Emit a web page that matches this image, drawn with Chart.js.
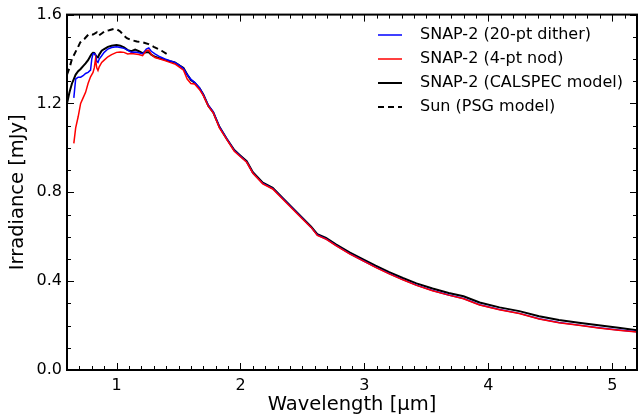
<!DOCTYPE html>
<html>
<head>
<meta charset="utf-8">
<script src="https://cdn.jsdelivr.net/npm/chart.js@4/dist/chart.umd.min.js"></script>
<style>
  html, body { margin: 0; padding: 0; background: #fff; overflow: hidden; }
  #wrap { width: 639px; height: 415px; position: relative; }
</style>
</head>
<body>
<div id="wrap"><canvas id="spectrumChart"></canvas></div>
<script>
// ===========================
// Data
// ===========================

const wavelength = [0.60, 0.62, 0.64, 0.655, 0.67, 0.69, 0.71, 0.73, 0.75, 0.77, 0.79, 0.80, 0.81, 0.82, 0.83, 0.84, 0.85, 0.86, 0.88, 0.90,
    0.93, 0.96, 1.00, 1.03, 1.06, 1.09, 1.12, 1.15, 1.18, 1.21, 1.24, 1.26, 1.28, 1.31, 1.35, 1.39, 1.43, 1.47, 1.51, 1.54,
    1.57, 1.60, 1.63, 1.67, 1.70, 1.74, 1.78, 1.83, 1.89, 1.95, 2.00, 2.05, 2.10, 2.18, 2.26, 2.34, 2.42, 2.50, 2.57, 2.62,
    2.69, 2.77, 2.88, 2.99, 3.09, 3.20, 3.31, 3.42, 3.55, 3.68, 3.80, 3.93, 4.09, 4.25, 4.41, 4.57, 4.73, 4.89, 5.05, 5.20];

const dither20 = [null, null, null, 1.225, 1.31, 1.318, 1.318, 1.325, 1.335, 1.34, 1.35, 1.40, 1.423, 1.425, 1.42, 1.39, 1.385, 1.40, 1.415, 1.43,
    1.445, 1.452, 1.455, 1.452, 1.448, 1.44, 1.43, 1.432, 1.428, 1.423, 1.445, 1.45, 1.435, 1.423, 1.41, 1.40, 1.392, 1.385, 1.37, 1.357,
    1.33, 1.308, 1.295, 1.27, 1.24, 1.192, 1.162, 1.095, 1.04, 0.988, 0.962, 0.937, 0.887, 0.84, 0.817, 0.772, 0.727, 0.682, 0.642, 0.608,
    0.59, 0.561, 0.524, 0.492, 0.463, 0.434, 0.407, 0.382, 0.358, 0.338, 0.322, 0.294, 0.272, 0.255, 0.231, 0.214, 0.202, 0.19, 0.18, 0.172];

const nod4 = [null, null, null, 1.02, 1.09, 1.14, 1.20, 1.225, 1.25, 1.29, 1.32, 1.33, 1.34, 1.36, 1.40, 1.36, 1.348, 1.365, 1.385, 1.395,
    1.41, 1.42, 1.43, 1.432, 1.43, 1.423, 1.425, 1.423, 1.42, 1.415, 1.438, 1.44, 1.42, 1.407, 1.40, 1.393, 1.385, 1.378, 1.362, 1.35,
    1.31, 1.29, 1.288, 1.262, 1.235, 1.188, 1.158, 1.09, 1.037, 0.985, 0.96, 0.935, 0.886, 0.838, 0.815, 0.77, 0.725, 0.68, 0.642, 0.606,
    0.589, 0.56, 0.523, 0.491, 0.462, 0.433, 0.406, 0.381, 0.357, 0.337, 0.321, 0.293, 0.271, 0.254, 0.23, 0.213, 0.201, 0.189, 0.179, 0.171];

const calspec = [1.20, 1.25, 1.29, 1.31, 1.33, 1.345, 1.355, 1.368, 1.38, 1.395, 1.415, 1.423, 1.428, 1.427, 1.418, 1.41, 1.407, 1.42, 1.437, 1.445,
    1.455, 1.46, 1.463, 1.46, 1.453, 1.44, 1.435, 1.442, 1.435, 1.427, 1.43, 1.43, 1.42, 1.41, 1.403, 1.397, 1.39, 1.385, 1.37, 1.36,
    1.33, 1.305, 1.293, 1.268, 1.24, 1.19, 1.16, 1.095, 1.04, 0.99, 0.965, 0.94, 0.89, 0.843, 0.82, 0.775, 0.73, 0.685, 0.645, 0.612,
    0.595, 0.566, 0.53, 0.498, 0.47, 0.441, 0.414, 0.39, 0.367, 0.347, 0.332, 0.304, 0.282, 0.265, 0.242, 0.225, 0.213, 0.201, 0.19, 0.179];

const sunWavelength = [0.60, 0.62, 0.64, 0.667, 0.69, 0.707, 0.74, 0.775, 0.81, 0.84, 0.855, 0.88, 0.908, 0.94, 0.976, 1.00, 1.03, 1.06, 1.083, 1.12,
    1.164, 1.21, 1.258, 1.30, 1.338, 1.37, 1.405, 1.42];
const sunModel = [1.33, 1.36, 1.40, 1.43, 1.455, 1.475, 1.49, 1.512, 1.51, 1.52, 1.505, 1.515, 1.527, 1.53, 1.535, 1.535, 1.524, 1.505, 1.494, 1.485,
    1.479, 1.475, 1.467, 1.455, 1.445, 1.435, 1.423, 1.415];

const seriesLabels = ['SNAP-2 (20-pt dither)', 'SNAP-2 (4-pt nod)', 'SNAP-2 (CALSPEC model)', 'Sun (PSG model)'];
const xTickValues = [1, 2, 3, 4, 5];
const yTickValues = [0.0, 0.4, 0.8, 1.2, 1.6];

const FONT = "'DejaVu Sans', 'Liberation Sans', sans-serif";

function toPoints(xs, ys) {
    return xs.map((w, i) => ({ x: w, y: ys[i] }));
}

// ===========================
// Frame + inward ticks
// ===========================

const frameTicks = {
    id: 'frameTicks',
    afterDraw(chart) {
        const { ctx, chartArea: a, scales: { x, y } } = chart;
        ctx.save();
        ctx.strokeStyle = '#000';
        ctx.lineWidth = 1;
        ctx.beginPath();
        for (let i = Math.ceil(x.min * 10 - 1e-6); i <= Math.floor(x.max * 10 + 1e-6); i++) {
            const px = Math.round(x.getPixelForValue(i / 10)) + 0.5;
            const len = i % 10 === 0 ? 7 : 4;
            ctx.moveTo(px, a.bottom); ctx.lineTo(px, a.bottom - len);
            ctx.moveTo(px, a.top); ctx.lineTo(px, a.top + len);
        }
        for (let i = Math.ceil(y.min * 10 - 1e-6); i <= Math.floor(y.max * 10 + 1e-6); i++) {
            const py = Math.round(y.getPixelForValue(i / 10)) + 0.5;
            const len = i % 4 === 0 ? 7 : 4;
            ctx.moveTo(a.left, py); ctx.lineTo(a.left + len, py);
            ctx.moveTo(a.right, py); ctx.lineTo(a.right - len, py);
        }
        ctx.stroke();
        ctx.lineWidth = 2;
        ctx.strokeRect(a.left, a.top, a.right - a.left, a.bottom - a.top);
        ctx.restore();
    }
};

// ===========================
// Legend inside the axes
// ===========================

const insideLegend = {
    id: 'insideLegend',
    afterDraw(chart) {
        const { ctx } = chart;
        ctx.save();
        ctx.font = `16px ${FONT}`;
        ctx.textBaseline = 'middle';
        ctx.fillStyle = '#000';
        chart.data.datasets.forEach((ds, i) => {
            const yy = 35 + i * 24;
            ctx.strokeStyle = ds.borderColor;
            ctx.lineWidth = ds.borderWidth;
            ctx.setLineDash(ds.borderDash || []);
            ctx.beginPath();
            ctx.moveTo(378, yy);
            ctx.lineTo(402, yy);
            ctx.stroke();
            ctx.setLineDash([]);
            ctx.fillText(ds.label, 420, yy);
        });
        ctx.restore();
    }
};

// ===========================
// Chart
// ===========================

const ctx = document.getElementById('spectrumChart');

new Chart(ctx, {
    type: 'line',
    data: {
        datasets: [{
            label: seriesLabels[0],
            data: toPoints(wavelength, dither20),
            borderColor: '#0000ff',
            borderWidth: 1.5,
            order: 1
        }, {
            label: seriesLabels[1],
            data: toPoints(wavelength, nod4),
            borderColor: '#ff0000',
            borderWidth: 1.5,
            order: 0
        }, {
            label: seriesLabels[2],
            data: toPoints(wavelength, calspec),
            borderColor: '#000000',
            borderWidth: 2,
            order: 2
        }, {
            label: seriesLabels[3],
            data: toPoints(sunWavelength, sunModel),
            borderColor: '#000000',
            borderWidth: 2,
            borderDash: [6, 4],
            order: 3
        }]
    },
    options: {
        responsive: true,
        maintainAspectRatio: false,
        animation: false,
        events: [],
        elements: {
            point: { radius: 0 },
            line: { tension: 0, fill: false }
        },
        layout: {
            padding: { top: 13, right: 2, left: 0, bottom: 0 }
        },
        plugins: {
            legend: { display: false },
            tooltip: { enabled: false }
        },
        scales: {
            x: {
                type: 'linear',
                min: 0.6,
                max: 5.2,
                afterBuildTicks: scale => { scale.ticks = xTickValues.map(v => ({ value: v })); },
                afterFit: scale => { scale.height = 45; },
                grid: { display: false, drawTicks: false },
                border: { display: false },
                ticks: {
                    padding: 6,
                    color: '#000',
                    font: { family: FONT, size: 16 },
                    maxRotation: 0,
                    callback: v => String(v)
                },
                title: {
                    display: true,
                    text: 'Wavelength [μm]',
                    color: '#000',
                    font: { family: FONT, size: 19.5, lineHeight: 1 },
                    padding: { top: 0, bottom: 0 }
                }
            },
            y: {
                min: 0,
                max: 1.6,
                afterBuildTicks: scale => { scale.ticks = yTickValues.map(v => ({ value: v })); },
                afterFit: scale => { scale.width = 67; },
                grid: { display: false, drawTicks: false },
                border: { display: false },
                ticks: {
                    padding: 5,
                    color: '#000',
                    font: { family: FONT, size: 16 },
                    callback: v => v.toFixed(1)
                },
                title: {
                    display: true,
                    text: 'Irradiance [mJy]',
                    color: '#000',
                    font: { family: FONT, size: 19.5, lineHeight: 1 },
                    padding: { top: 8, bottom: 0 }
                }
            }
        }
    },
    plugins: [frameTicks, insideLegend]
});
</script>
</body>
</html>
